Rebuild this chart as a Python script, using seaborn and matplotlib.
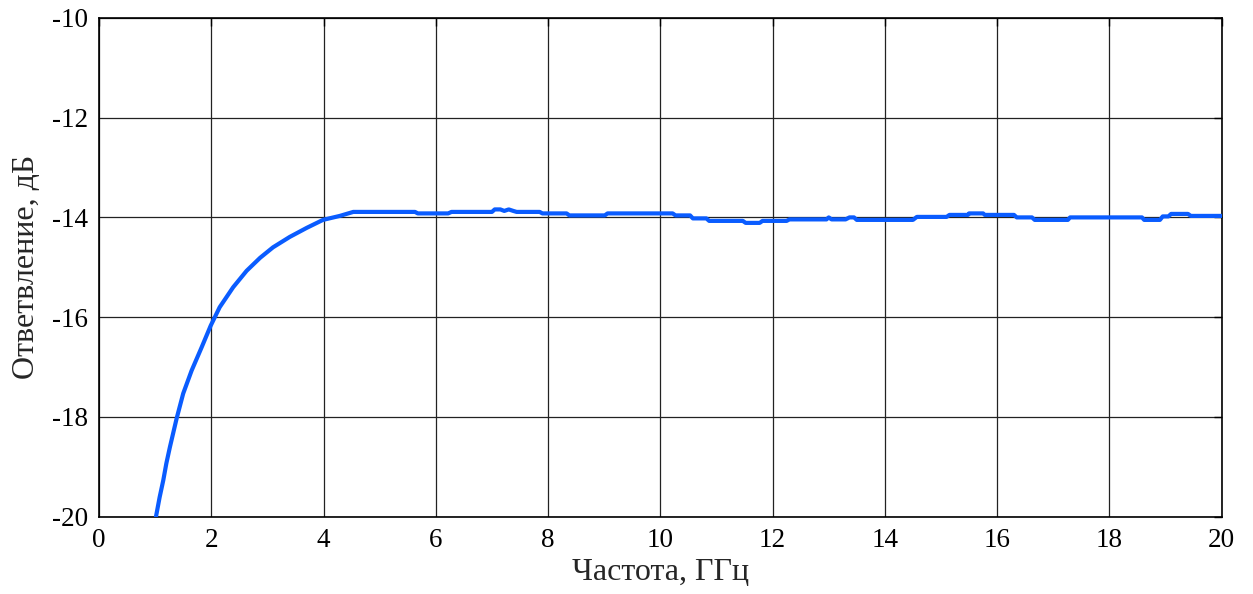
import numpy as np
import pandas as pd
import matplotlib
matplotlib.use("Agg")
import matplotlib.pyplot as plt
import seaborn as sns

# frequency, GHz
freq = [1.015, 1.08, 1.145, 1.20, 1.264, 1.383, 1.50, 1.65, 1.83, 1.99, 2.15, 2.39,
        2.63, 2.87, 3.10, 3.40, 3.70, 3.99, 4.29, 4.53, 5.63, 5.68, 6.22, 6.28,
        7.00, 7.05, 7.15, 7.22, 7.30, 7.38, 7.44, 7.85, 7.90, 8.33, 8.38, 9.01,
        9.06, 10.22, 10.27, 10.53, 10.58, 10.82, 10.87, 11.47, 11.52, 11.77, 11.82,
        12.25, 12.30, 12.96, 13.00, 13.05, 13.30, 13.37, 13.45, 13.50, 14.50, 14.57,
        15.10, 15.15, 15.48, 15.50, 15.75, 15.78, 16.30, 16.35, 16.62, 16.67, 17.26,
        17.30, 18.58, 18.62, 18.90, 18.95, 19.05, 19.10, 19.40, 19.45, 20.00]
# coupling, dB
coupling = [-20.00, -19.61, -19.27, -18.93, -18.60, -18.03, -17.53, -17.07, -16.60,
            -16.17, -15.80, -15.40, -15.07, -14.81, -14.60, -14.39, -14.21, -14.05,
            -13.97, -13.89, -13.89, -13.92, -13.92, -13.89, -13.89, -13.84, -13.84,
            -13.87, -13.84, -13.87, -13.89, -13.89, -13.92, -13.92, -13.96, -13.96,
            -13.92, -13.92, -13.96, -13.96, -14.02, -14.02, -14.07, -14.07, -14.11,
            -14.11, -14.07, -14.07, -14.04, -14.04, -14.00, -14.04, -14.04, -14.00,
            -14.00, -14.05, -14.05, -13.99, -13.99, -13.95, -13.95, -13.92, -13.92,
            -13.95, -13.95, -14.00, -14.00, -14.05, -14.05, -14.00, -14.00, -14.05,
            -14.05, -13.98, -13.98, -13.93, -13.93, -13.97, -13.97]

xticks = list(range(0, 21, 2))
yticks = list(range(-20, -9, 2))

df = pd.DataFrame({"freq": freq, "coupling": coupling})

sns.set_style("white")
plt.rcParams['font.family'] = ['Liberation Serif', 'DejaVu Serif']
plt.rcParams['axes.unicode_minus'] = False

fig, ax = plt.subplots(figsize=(12.53, 5.94), dpi=100)
fig.subplots_adjust(left=0.079, right=0.975, top=0.970, bottom=0.130)

sns.lineplot(data=df, x="freq", y="coupling", ax=ax, color='#0a5cff',
             linewidth=3, sort=False, zorder=3)

ax.set_xlim(0, 20)
ax.set_ylim(-20, -10)
ax.set_xticks(xticks)
ax.set_yticks(yticks)
ax.grid(True, color='#222222', linewidth=0.9)
for s in ax.spines.values():
    s.set_color('black')
    s.set_linewidth(1.2)
ax.tick_params(direction='in', length=6, width=1, top=True, right=True,
               labelsize=19.5, colors='black', pad=8)

ax.set_xlabel('Частота, ГГц', fontsize=23, labelpad=4)
ax.set_ylabel('Ответвление, дБ', fontsize=23, labelpad=8)

fig.savefig("out.png", dpi=100)
